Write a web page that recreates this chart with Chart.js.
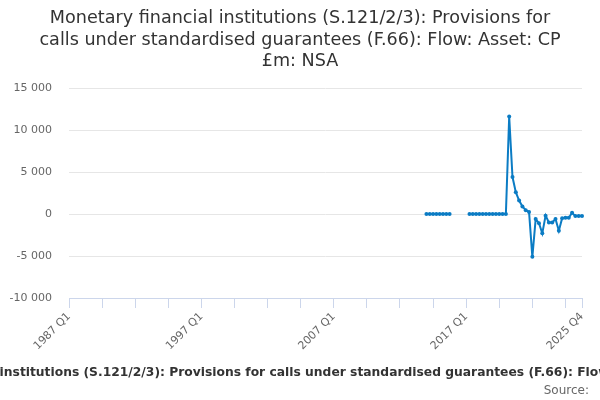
<!DOCTYPE html>
<html>
<head>
<meta charset="utf-8">
<script src="https://cdn.jsdelivr.net/npm/chart.js@4"></script>
<style>
  html, body { margin: 0; padding: 0; background: #fff; }
  #wrap { width: 600px; height: 400px; position: relative; }
</style>
</head>
<body>
<div id="wrap"><canvas id="chart"></canvas></div>
<script>
'use strict';

const titleLines = [
    'Monetary financial institutions (S.121/2/3): Provisions for',
    'calls under standardised guarantees (F.66): Flow: Asset: CP',
    '£m: NSA'
];
const seriesName = 'Monetary financial institutions (S.121/2/3): Provisions for calls under standardised guarantees (F.66): Flow: Asset: CP £m: NSA';
const sourceText = 'Source:';

// axis runs 1987 Q1 .. 2025 Q4
const firstYear = 1987;
const lastYear = 2025;

// series starts 2014 Q1, gap 2016 Q1 - 2017 Q1
const seriesStart = '2014 Q1';
const seriesValues = [
    0, 0, 0, 0, 0, 0, 0, 0,
    null, null, null, null, null,
    0, 0, 0, 0, 0, 0, 0, 0, 0, 0, 0, 0,
    11600, 4400, 2600, 1600, 900, 450, 250,
    -5100, -600, -1100, -2300, -200, -1000, -1000, -600,
    -2000, -500, -450, -450, 150, -250, -250, -250
];

const yMin = -10000;
const yMax = 15000;
const yStep = 5000;

const labels = [];
for (let y = firstYear; y <= lastYear; y++) {
    for (let q = 1; q <= 4; q++) labels.push(y + ' Q' + q);
}

const startIdx = labels.indexOf(seriesStart);
const data = labels.map((_, i) => {
    const k = i - startIdx;
    return (k >= 0 && k < seriesValues.length) ? seriesValues[k] : null;
});

const lastIdx = labels.length - 1;
const lineColor = '#0b7cc4';

function fmt(v) {
    return String(v).replace(/\B(?=(\d{3})+(?!\d))/g, ' ');
}

// bottom series name + source line
const footerPlugin = {
    id: 'footerText',
    afterDraw(chart) {
        const ctx = chart.ctx;
        ctx.save();
        ctx.textBaseline = 'middle';
        ctx.textAlign = 'center';
        ctx.fillStyle = '#333';
        ctx.font = 'bold 12.3px "DejaVu Sans"';
        ctx.fillText(seriesName, 307, 373);
        ctx.textAlign = 'right';
        ctx.fillStyle = '#666';
        ctx.font = '12px "DejaVu Sans"';
        ctx.fillText(sourceText, 589, 391);
        ctx.restore();
    }
};

Chart.defaults.font.family = '"DejaVu Sans", sans-serif';

new Chart(document.getElementById('chart').getContext('2d'), {
    type: 'line',
    data: {
        labels: labels,
        datasets: [{
            label: seriesName,
            data: data,
            borderColor: lineColor,
            backgroundColor: lineColor,
            borderWidth: 2,
            pointRadius: 2,
            pointHoverRadius: 3,
            pointBorderWidth: 0,
            tension: 0,
            spanGaps: false
        }]
    },
    options: {
        responsive: true,
        maintainAspectRatio: false,
        animation: false,
        layout: { padding: 0 },
        plugins: {
            legend: { display: false },
            tooltip: { enabled: false },
            title: {
                display: true,
                text: titleLines,
                color: '#333',
                font: { size: 17.6, weight: 'normal', lineHeight: '21.5px' },
                padding: { top: 8, bottom: 15.5 }
            }
        },
        scales: {
            x: {
                type: 'category',
                offset: false,
                afterFit(scale) { scale.height = 102; },
                border: { display: true, color: '#ccd6eb', width: 1 },
                grid: {
                    drawOnChartArea: false,
                    drawTicks: true,
                    tickLength: 10,
                    color: (c) => (c.index % 10 === 0 || c.index === lastIdx) ? '#ccd6eb' : 'rgba(0,0,0,0)'
                },
                ticks: {
                    autoSkip: false,
                    maxRotation: 45,
                    minRotation: 45,
                    padding: 2,
                    color: '#666',
                    font: { size: 11 },
                    callback: (v, i) => (i % 40 === 0 || i === lastIdx) ? labels[i] : ''
                }
            },
            y: {
                min: yMin,
                max: yMax,
                afterFit(scale) { scale.width = 69; },
                border: { display: false },
                grid: { color: '#e6e6e6', drawTicks: false },
                ticks: {
                    stepSize: yStep,
                    padding: 17,
                    color: '#666',
                    font: { size: 11 },
                    callback: (v) => fmt(v)
                }
            },
            // empty right-hand margin so the title stays centred on the page
            yRight: {
                position: 'right',
                min: yMin,
                max: yMax,
                afterFit(scale) { scale.width = 18; },
                border: { display: false },
                grid: { display: false },
                ticks: { display: false }
            }
        }
    },
    plugins: [footerPlugin]
});
</script>
</body>
</html>
